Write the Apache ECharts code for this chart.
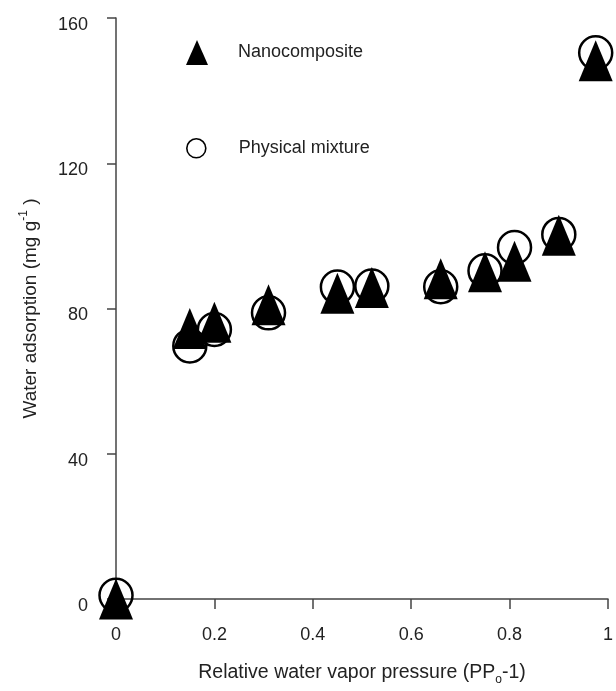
<!DOCTYPE html>
<html>
<head>
<meta charset="utf-8">
<script src="https://cdn.jsdelivr.net/npm/echarts@6/dist/echarts.min.js"></script>
<style>
    html, body { margin: 0; padding: 0; background: #fff; }
    #chart { width: 616px; height: 691px; }
</style>
</head>
<body>
<div id="chart"></div>
<script>
// values
var nanoX = [0, 0.15, 0.2, 0.31, 0.45, 0.52, 0.66, 0.75, 0.81, 0.9, 0.975]
var nanoY = [0, 74.5, 76.2, 81, 84.2, 85.8, 88.2, 90.1, 93, 100.2, 148.2]
var mixX = [0, 0.15, 0.2, 0.31, 0.45, 0.52, 0.66, 0.75, 0.81, 0.9, 0.975]
var mixY = [1, 69.7, 74.2, 78.8, 85.9, 86.2, 86, 90.4, 96.8, 100.4, 150.4]
var xTicks = [0, 0.2, 0.4, 0.6, 0.8, 1]
var yTicks = [0, 40, 80, 120, 160]

var font = '"Liberation Sans", Arial, sans-serif'
var axisColor = '#444'
var textColor = '#222'

function pairs(xs, ys) {
    return xs.map(function (x, i) { return [x, ys[i]] })
}

var chart = echarts.init(document.getElementById('chart'))
var options = {
    animation: false,
    textStyle: { fontFamily: font },
    legend: [
        {
            data: ['Nanocomposite'],
            orient: 'vertical',
            left: 181,
            top: 35,
            itemWidth: 22,
            itemHeight: 25,
            selectedMode: false,
            textStyle: { fontFamily: font, fontSize: 18, color: textColor, padding: [0, 0, 0, 25] },
        },
        {
            data: [{ name: 'Physical mixture', itemStyle: { borderWidth: 1.6 } }],
            orient: 'vertical',
            left: 181,
            top: 133,
            itemWidth: 19,
            itemHeight: 19,
            selectedMode: false,
            textStyle: { fontFamily: font, fontSize: 18, color: textColor, padding: [0, 0, 0, 28] },
        },
    ],
    grid: {
        left: 116,
        right: 3,
        top: 18,
        bottom: 88,
        containLabel: false,
    },
    xAxis: {
        type: 'value',
        min: 0,
        max: 1,
        interval: 0.2,
        splitLine: { show: false },
        axisLine: { show: true, onZero: false, lineStyle: { color: axisColor, width: 1.5 } },
        axisTick: { show: true, length: 10, lineStyle: { color: axisColor, width: 1.5 } },
        axisLabel: {
            margin: 27,
            fontSize: 18,
            color: textColor,
            fontFamily: font,
            showMaxLabel: true,
            formatter: function (v) {
                var t = xTicks.find(function (k) { return Math.abs(k - v) < 1e-9 })
                return t === undefined ? '' : String(t)
            },
        },
        name: 'Relative water vapor pressure (PP{sub|o}-1)',
        nameLocation: 'middle',
        nameGap: 61,
        nameTextStyle: {
            fontFamily: font,
            fontSize: 19.5,
            color: textColor,
            lineHeight: 26,
            rich: {
                sub: { fontFamily: font, fontSize: 12, color: textColor, verticalAlign: 'bottom' },
            },
        },
    },
    yAxis: {
        type: 'value',
        min: 0,
        max: 160,
        interval: 40,
        splitLine: { show: false },
        axisLine: { show: true, onZero: false, lineStyle: { color: axisColor, width: 1.5 } },
        axisTick: { show: true, length: 9, lineStyle: { color: axisColor, width: 1.5 } },
        axisLabel: {
            margin: 28,
            fontSize: 18,
            color: textColor,
            fontFamily: font,
            verticalAlign: 'top',
            lineHeight: 14,
            formatter: function (v) {
                return yTicks.indexOf(v) >= 0 ? String(v) : ''
            },
        },
        name: 'Water adsorption (mg g{sup|-1} )',
        nameLocation: 'middle',
        nameGap: 72,
        nameTextStyle: {
            fontFamily: font,
            fontSize: 19,
            color: textColor,
            lineHeight: 26,
            rich: {
                sup: { fontFamily: font, fontSize: 12, color: textColor, verticalAlign: 'top' },
            },
        },
    },
    series: [
        {
            name: 'Physical mixture',
            type: 'scatter',
            symbol: 'circle',
            symbolSize: 33,
            itemStyle: { color: 'rgba(0,0,0,0)', borderColor: '#000', borderWidth: 2.5, opacity: 1 },
            data: pairs(mixX, mixY),
            z: 2,
        },
        {
            name: 'Nanocomposite',
            type: 'scatter',
            symbol: 'triangle',
            symbolSize: [34, 41],
            itemStyle: { color: '#000', opacity: 1 },
            data: pairs(nanoX, nanoY),
            z: 3,
        },
    ],
}
chart.setOption(options)
</script>
</body>
</html>
